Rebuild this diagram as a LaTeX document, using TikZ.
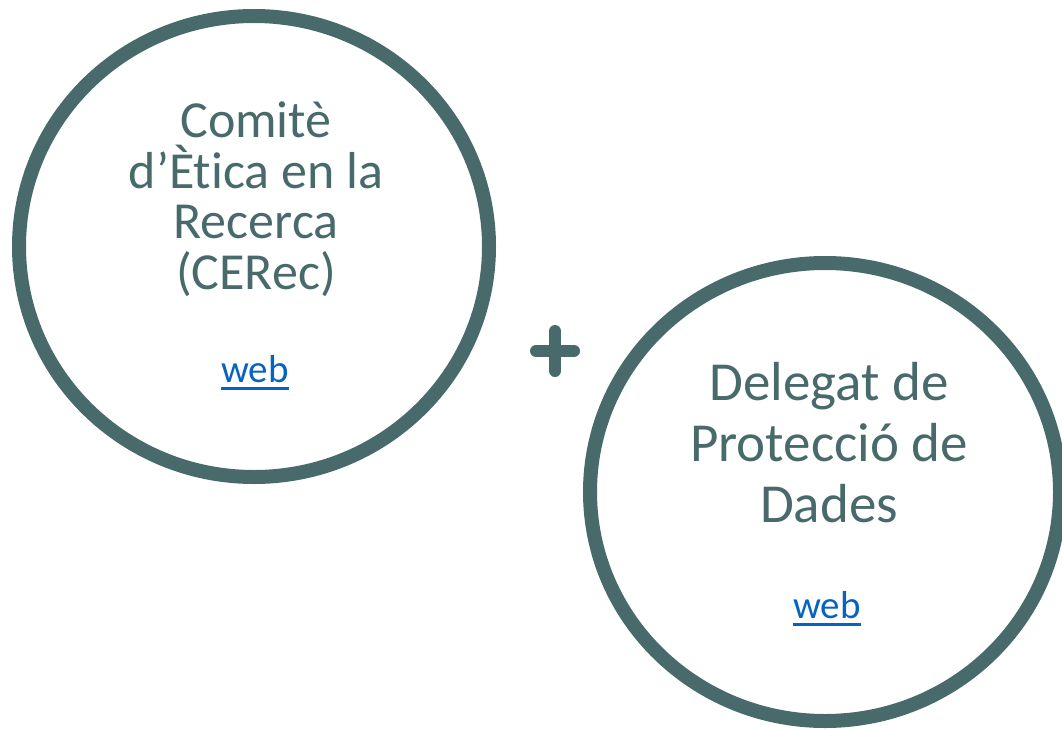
\documentclass[tikz,border=0pt]{standalone}
\usepackage{fontspec}
\setmainfont[RawFeature=-liga]{Carlito}
\usetikzlibrary{shapes.geometric}
\definecolor{ring}{HTML}{496A6B}
\definecolor{linkcol}{HTML}{0563C1}
\tikzset{
  ringstyle/.style={draw=ring, line width=14pt, ellipse, inner sep=0pt},
  bigtext/.style={text=ring, align=center, inner sep=0pt, anchor=base},
  linktext/.style={text=linkcol, inner sep=0pt, anchor=base, font=\fontsize{39pt}{40pt}\selectfont},
  linkline/.style={draw=linkcol, line width=2.7pt},
  plusbar/.style={draw=ring, line width=12pt, line cap=round}
}
\begin{document}
\begin{tikzpicture}[x=1pt,y=-1pt]
\useasboundingbox (0,0) rectangle (1062,730);
\node[ringstyle, minimum width=470pt, minimum height=461pt] (left) at (254,246.5) {};
\node[ringstyle, minimum width=470pt, minimum height=458pt] (right) at (825,492) {};
\node[bigtext, font=\fontsize{52pt}{50.5pt}\selectfont] (lefttext) at (256,289) {Comitè\\d’Ètica en la\\Recerca\\(CERec)};
\node[bigtext, font=\fontsize{55pt}{61pt}\selectfont] (righttext) at (829,522) {Delegat de\\Protecció de\\Dades};
\node[linktext] (leftweb) at (255,382) {web};
\node[linktext] (rightweb) at (827,618) {web};
\draw[linkline] ([yshift=-6.5pt]leftweb.base west) -- ([yshift=-6.5pt]leftweb.base east);
\draw[linkline] ([yshift=-6.5pt]rightweb.base west) -- ([yshift=-6.5pt]rightweb.base east);
\coordinate (plusc) at (555,351);
\draw[plusbar] ([xshift=-19pt]plusc) -- ([xshift=19pt]plusc);
\draw[plusbar] ([yshift=-20pt]plusc) -- ([yshift=20pt]plusc);
\end{tikzpicture}
\end{document}
